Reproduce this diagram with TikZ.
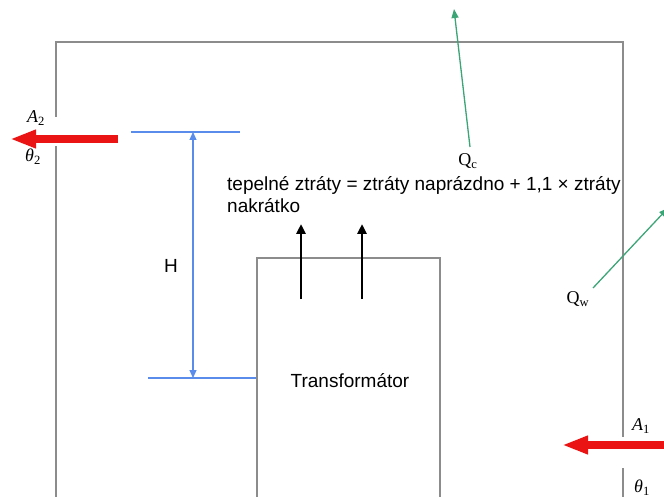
\documentclass[tikz,border=0pt]{standalone}
\usepackage{fontspec}
\setmainfont{Liberation Sans}
\newfontfamily\serifa{Liberation Serif}
\usetikzlibrary{arrows.meta}
\definecolor{wallgray}{RGB}{140,140,140}
\definecolor{dimblue}{RGB}{90,140,235}
\definecolor{heatgreen}{RGB}{60,165,120}
\definecolor{airred}{RGB}{235,20,20}
\begin{document}
\begin{tikzpicture}[x=1pt,y=-1pt,
  wall/.style={draw=wallgray,line width=2pt},
  dimline/.style={draw=dimblue,line width=1.1pt},
  airflow/.style={draw=airred,line width=8.5pt,-{Triangle[length=26pt,width=17pt]}},
  heatflow/.style={draw=heatgreen,line width=1.3pt,-{Triangle[length=9pt,width=7pt]}},
  lossflow/.style={draw=black,line width=2.8pt,-{Triangle[length=10pt,width=9pt]}},
  sym/.style={font=\serifa\fontsize{18}{20}\selectfont,inner sep=0pt},
  lbl/.style={font=\fontsize{19}{22}\selectfont,inner sep=0pt}]
\useasboundingbox (0,0) rectangle (664,497);
% walls
\coordinate (lwb) at (56,497);
\coordinate (lwg2) at (56,146);
\coordinate (lwg1) at (56,117);
\coordinate (tl) at (56,42);
\coordinate (tr) at (623,42);
\coordinate (rwg1) at (623,437);
\coordinate (rwg2) at (623,468);
\coordinate (rwb) at (623,497);
\draw[wall] (lwg1) -- (tl) -- (tr) -- (rwg1);
\draw[wall] (lwg2) -- (lwb);
\draw[wall] (rwg2) -- (rwb);
% transformer box
\node[draw=wallgray,line width=1.6pt,minimum width=183pt,minimum height=260pt,anchor=north west,inner sep=0pt] (box) at (256,257) {};
\node[lbl] (tname) at (350,381) {Transformátor};
% dimension H
\coordinate (ht1) at (131,132);
\coordinate (ht2) at (240,132);
\coordinate (hb1) at (148,378);
\coordinate (hb2) at (256,378);
\draw[dimline] (ht1) -- (ht2);
\draw[dimline] (hb1) -- (hb2);
\coordinate (hat) at (193,132);
\coordinate (hab) at (193,378);
\draw[dimline,{Triangle[length=8pt,width=7pt]}-{Triangle[length=8pt,width=7pt]}] (hat) -- (hab);
\node[lbl] (hlabel) at (171,266) {H};
% losses text
\node[lbl,anchor=north west,align=left] (loss) at (227,176) {tepelné ztráty = ztráty naprázdno + 1,1 × ztráty\\nakrátko};
% black loss arrows
\coordinate (la1s) at (301,299);
\coordinate (la1e) at (301,224);
\coordinate (la2s) at (362,299);
\coordinate (la2e) at (362,224);
\draw[lossflow] (la1s) -- (la1e);
\draw[lossflow] (la2s) -- (la2e);
% air arrows
\coordinate (a2s) at (118,139);
\coordinate (a2e) at (10,139);
\draw[airflow] (a2s) -- (a2e);
\coordinate (a1s) at (670,445);
\coordinate (a1e) at (562,445);
\draw[airflow] (a1s) -- (a1e);
\node[sym] (A2) at (36,118) {\textit{A}\textsubscript{2}};
\node[sym] (T2) at (33,157) {\textit{θ}\textsubscript{2}};
\node[sym] (A1) at (641,426) {\textit{A}\textsubscript{1}};
\node[sym] (T1) at (642,488) {\textit{θ}\textsubscript{1}};
% heat arrows
\coordinate (qcs) at (470,147);
\coordinate (qce) at (454,9);
\draw[heatflow] (qcs) -- (qce);
\node[sym] (Qc) at (468,161) {Q\textsubscript{c}};
\coordinate (qws) at (593,288);
\coordinate (qwe) at (668,208);
\draw[heatflow] (qws) -- (qwe);
\node[sym] (Qw) at (578,299) {Q\textsubscript{w}};
\end{tikzpicture}
\end{document}
